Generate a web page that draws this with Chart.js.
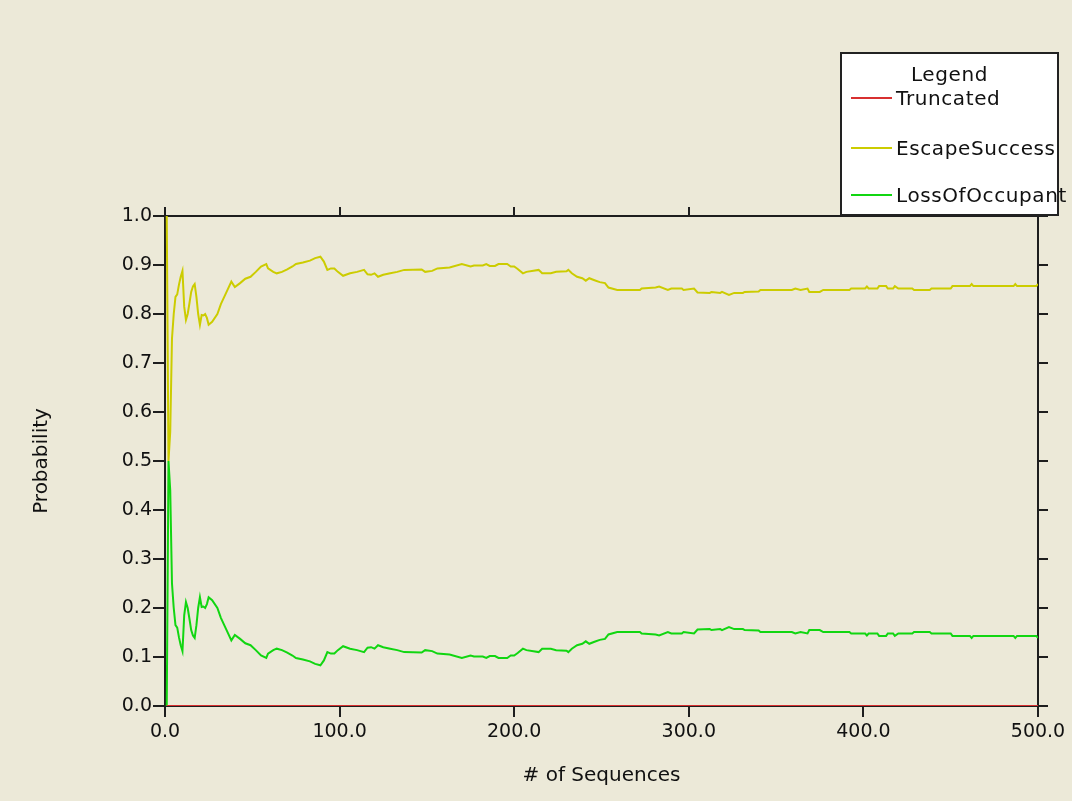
<!DOCTYPE html>
<html>
<head>
<meta charset="utf-8">
<script src="https://cdn.jsdelivr.net/npm/chart.js@4.4.1/dist/chart.umd.min.js"></script>
<style>
  html, body { margin: 0; padding: 0; background: #ffffff; }
  #wrap { position: absolute; left: 0; top: 0; width: 1072px; height: 801px; background: #ECE9D8; overflow: hidden; }
  #c { position: absolute; left: 0; top: 0; }
  #legend { position: absolute; left: 840px; top: 52px; width: 215px; height: 160px; background: #ffffff; border: 2px solid #222; font-family: "DejaVu Sans", sans-serif; font-size: 20px; color: #111; letter-spacing: 0.6px; }
  #legend .title { position: absolute; left: 0; width: 100%; top: 8px; text-align: center; }
  #legend .item { position: absolute; left: 9px; height: 24px; white-space: nowrap; }
  #legend .swatch { position: absolute; left: 0; top: 11px; width: 41px; height: 2px; }
  #legend .label { position: absolute; left: 45px; top: 0; line-height: 24px; }
</style>
</head>
<body>
<div id="wrap">
  <canvas id="c" width="1072" height="801"></canvas>
  <div id="legend"></div>
</div>
<script>
// ---- data ----
const seqCounts = [1,2,3,4,5,6,7,8,9,10,11,12,13,14,15,16,17,18,19,20,21,22,23,24,25,27,30,32,35,38,40,43,46,49,52,55,58,59,62,64,67,70,73,75,79,83,86,89,91,93,95,97,99,102,106,110,114,116,118,120,122,125,129,133,137,147,149,153,156,163,170,175,177,182,184,186,189,191,196,198,200,202,205,207,214,216,221,224,230,231,233,236,239,241,243,246,249,252,254,259,272,273,281,283,288,290,296,297,303,305,312,313,318,319,323,326,331,332,340,341,359,361,364,368,369,375,377,392,393,401,402,403,408,409,413,414,417,418,420,428,429,438,439,450,451,461,462,463,486,487,488,499,500];

const escapeSuccess = [1.0,0.5,0.56,0.75,0.80,0.835,0.84,0.86,0.876,0.888,0.815,0.788,0.80,0.822,0.845,0.856,0.861,0.835,0.80,0.778,0.798,0.797,0.80,0.792,0.778,0.784,0.80,0.82,0.843,0.866,0.855,0.863,0.872,0.876,0.886,0.897,0.902,0.893,0.886,0.883,0.886,0.891,0.897,0.902,0.905,0.909,0.914,0.917,0.907,0.890,0.893,0.893,0.886,0.878,0.883,0.886,0.890,0.881,0.880,0.883,0.876,0.880,0.883,0.886,0.890,0.891,0.886,0.888,0.893,0.895,0.902,0.897,0.899,0.899,0.902,0.898,0.898,0.902,0.902,0.897,0.897,0.892,0.883,0.886,0.890,0.883,0.883,0.886,0.887,0.890,0.883,0.876,0.873,0.868,0.873,0.869,0.865,0.863,0.854,0.849,0.849,0.852,0.854,0.856,0.849,0.852,0.852,0.849,0.852,0.844,0.843,0.845,0.843,0.845,0.839,0.843,0.843,0.845,0.846,0.849,0.849,0.852,0.849,0.852,0.845,0.845,0.849,0.849,0.852,0.852,0.856,0.852,0.852,0.857,0.857,0.852,0.852,0.857,0.852,0.852,0.849,0.849,0.852,0.852,0.857,0.857,0.861,0.857,0.857,0.861,0.857,0.857,0.861];

const lossOfOccupant = [0.0,0.5,0.44,0.25,0.20,0.165,0.16,0.14,0.124,0.112,0.185,0.212,0.20,0.178,0.155,0.144,0.139,0.165,0.20,0.222,0.202,0.203,0.20,0.208,0.222,0.216,0.20,0.18,0.157,0.134,0.145,0.137,0.128,0.124,0.114,0.103,0.098,0.107,0.114,0.117,0.114,0.109,0.103,0.098,0.095,0.091,0.086,0.083,0.093,0.110,0.107,0.107,0.114,0.122,0.117,0.114,0.110,0.119,0.120,0.117,0.124,0.120,0.117,0.114,0.110,0.109,0.114,0.112,0.107,0.105,0.098,0.103,0.101,0.101,0.098,0.102,0.102,0.098,0.098,0.103,0.103,0.108,0.117,0.114,0.110,0.117,0.117,0.114,0.113,0.110,0.117,0.124,0.127,0.132,0.127,0.131,0.135,0.137,0.146,0.151,0.151,0.148,0.146,0.144,0.151,0.148,0.148,0.151,0.148,0.156,0.157,0.155,0.157,0.155,0.161,0.157,0.157,0.155,0.154,0.151,0.151,0.148,0.151,0.148,0.155,0.155,0.151,0.151,0.148,0.148,0.144,0.148,0.148,0.143,0.143,0.148,0.148,0.143,0.148,0.148,0.151,0.151,0.148,0.148,0.143,0.143,0.139,0.143,0.143,0.139,0.143,0.143,0.139];

const truncatedCounts = [1, 500];
const truncated = [0, 0];

const xTickValues = [0, 100, 200, 300, 400, 500];
const yTickValues = [0.0, 0.1, 0.2, 0.3, 0.4, 0.5, 0.6, 0.7, 0.8, 0.9, 1.0];

const seriesNames = ['Truncated', 'EscapeSuccess', 'LossOfOccupant'];
const seriesColors = ['#d83030', '#cccc00', '#11d611'];

// ---- chart ----
const toPoints = (xs, ys) => xs.map((x, i) => ({ x: x, y: ys[i] }));
const FONT = { family: '"DejaVu Sans", sans-serif', size: 19 };
const TITLE_FONT = { family: '"DejaVu Sans", sans-serif', size: 20 };
const AXIS = '#1e1e1e';

const frameGrid = { display: true, drawOnChartArea: false, drawTicks: true, color: AXIS, lineWidth: 2 };
const frameBorder = { display: true, color: AXIS, width: 2 };

new Chart(document.getElementById('c'), {
  type: 'line',
  data: {
    datasets: [
      { label: seriesNames[0], data: toPoints(truncatedCounts, truncated), borderColor: seriesColors[0], backgroundColor: seriesColors[0] },
      { label: seriesNames[1], data: toPoints(seqCounts, escapeSuccess), borderColor: seriesColors[1], backgroundColor: seriesColors[1] },
      { label: seriesNames[2], data: toPoints(seqCounts, lossOfOccupant), borderColor: seriesColors[2], backgroundColor: seriesColors[2] }
    ]
  },
  options: {
    responsive: false,
    animation: false,
    devicePixelRatio: 1,
    layout: { padding: 0 },
    elements: { point: { radius: 0 }, line: { borderWidth: 2, tension: 0 } },
    plugins: { legend: { display: false }, tooltip: { enabled: false } },
    scales: {
      x: {
        type: 'linear', position: 'bottom', min: 0, max: 500, z: 1,
        afterBuildTicks: s => { s.ticks = xTickValues.map(v => ({ value: v })); },
        afterFit: s => { s.height = 95; },
        grid: Object.assign({}, frameGrid, { tickLength: 11 }),
        border: frameBorder,
        ticks: { color: '#111', font: FONT, padding: 4, maxRotation: 0, callback: v => Number(v).toFixed(1) },
        title: { display: true, text: '# of Sequences', color: '#111', font: TITLE_FONT, padding: { top: 0, bottom: 13 } }
      },
      x2: {
        type: 'linear', position: 'top', min: 0, max: 500, z: 1,
        afterBuildTicks: s => { s.ticks = xTickValues.map(v => ({ value: v })); },
        afterFit: s => { s.height = 216; },
        grid: Object.assign({}, frameGrid, { tickLength: 9 }),
        border: frameBorder,
        ticks: { display: false }
      },
      y: {
        type: 'linear', position: 'left', min: 0, max: 1, z: 1,
        afterBuildTicks: s => { s.ticks = yTickValues.map(v => ({ value: v })); },
        afterFit: s => { s.width = 165; },
        grid: Object.assign({}, frameGrid, { tickLength: 12 }),
        border: frameBorder,
        ticks: { color: '#111', font: FONT, padding: 1, callback: v => Number(v).toFixed(1) },
        title: { display: true, text: 'Probability', color: '#111', font: TITLE_FONT, padding: { top: 30, bottom: 0 } }
      },
      y2: {
        type: 'linear', position: 'right', min: 0, max: 1, z: 1,
        afterBuildTicks: s => { s.ticks = yTickValues.map(v => ({ value: v })); },
        afterFit: s => { s.width = 34; },
        grid: Object.assign({}, frameGrid, { tickLength: 10 }),
        border: frameBorder,
        ticks: { display: false }
      }
    }
  }
});

// ---- HTML legend built from the series names / colours ----
const legend = document.getElementById('legend');
const t = document.createElement('div');
t.className = 'title'; t.textContent = 'Legend';
legend.appendChild(t);
const itemTops = [32, 82, 129];
seriesNames.forEach((name, i) => {
  const it = document.createElement('div');
  it.className = 'item'; it.style.top = itemTops[i] + 'px';
  const sw = document.createElement('div');
  sw.className = 'swatch'; sw.style.background = seriesColors[i];
  const lb = document.createElement('div');
  lb.className = 'label'; lb.textContent = name;
  it.appendChild(sw); it.appendChild(lb);
  legend.appendChild(it);
});
</script>
</body>
</html>
